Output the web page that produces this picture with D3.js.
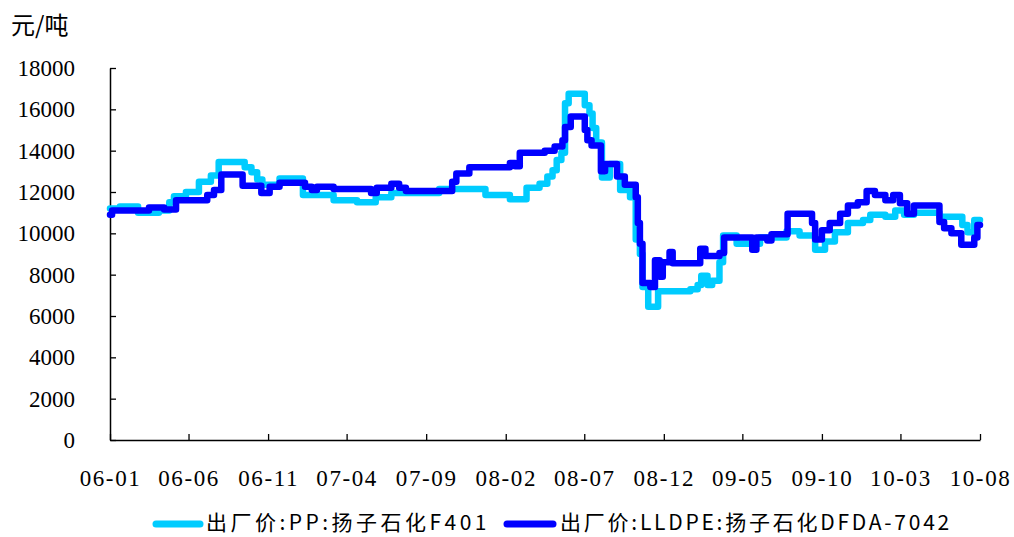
<!DOCTYPE html>
<html>
<head>
<meta charset="utf-8">
<script src="https://cdn.jsdelivr.net/npm/d3@7/dist/d3.min.js"></script>
<style>
  html, body { margin: 0; padding: 0; background: #fff; }
  svg { display: block; }
  .num { font-family: "Liberation Serif", "DejaVu Serif", "Liberation Sans"; }
  .cjk { font-family: "Noto Sans CJK SC", "Noto Sans", sans-serif; }
</style>
</head>
<body>
<svg id="chart" width="1014" height="537"></svg>
<script>
// Ex-works prices, yuan per tonne, step changes by date
const ppDates = [
  "2006-01-01","2006-01-20","2006-02-24","2006-04-05","2006-04-25","2006-05-04","2006-05-27","2006-06-21",
  "2006-07-14","2006-07-29","2006-09-17","2006-09-30","2006-10-11","2006-10-21","2006-11-23","2007-01-07",
  "2007-03-07","2007-04-21","2007-05-27","2007-06-26","2007-09-26","2007-12-24","2008-02-09","2008-03-12",
  "2008-04-06","2008-04-21","2008-05-01","2008-05-09","2008-05-18","2008-05-25","2008-06-01","2008-07-02",
  "2008-07-11","2008-07-17","2008-07-24","2008-08-04","2008-08-19","2008-09-08","2008-09-27","2008-10-08",
  "2008-10-16","2008-10-21","2008-11-01","2008-11-20","2009-01-21","2009-02-04","2009-02-11","2009-02-23",
  "2009-03-04","2009-03-18","2009-03-25","2009-04-20","2009-06-04","2009-07-25","2009-08-19","2009-09-18",
  "2009-10-07","2009-10-26","2009-11-20","2009-12-19","2010-01-02","2010-01-31","2010-02-19","2010-03-08",
  "2010-03-27","2010-05-15","2010-06-28","2010-07-08","2010-07-21","2010-08-01"
];
const ppPrices = [
  11200,11300,11000,11100,11500,11800,12000,12500,
  12800,13450,13200,12950,12600,12350,12650,11850,
  11600,11500,11750,11950,12150,11850,11650,12200,
  12400,12750,13050,13550,13900,16300,16750,16200,
  15800,15100,14400,12700,13350,12100,11750,9700,
  9000,7400,6450,7200,7300,7500,7950,7500,
  7700,8600,9900,9500,9800,10100,9900,9200,
  9600,10050,10500,10650,10900,10800,11100,10900,
  11000,10800,10400,10050,10650,10650
];

const lldpeDates = [
  "2006-01-01","2006-01-05","2006-03-17","2006-04-15","2006-05-08","2006-07-07","2006-07-20","2006-08-03",
  "2006-09-13","2006-10-19","2006-11-04","2006-11-23","2007-01-11","2007-01-24","2007-02-03","2007-03-07",
  "2007-05-18","2007-05-29","2007-06-26","2007-07-11","2007-07-24","2007-10-21","2007-10-29","2007-11-23",
  "2008-02-09","2008-02-19","2008-02-28","2008-04-16","2008-05-05","2008-05-20","2008-05-25","2008-06-05",
  "2008-07-02","2008-07-07","2008-07-15","2008-08-02","2008-08-10","2008-09-02","2008-09-17","2008-10-08",
  "2008-10-12","2008-10-16","2008-10-21","2008-11-05","2008-11-14","2008-11-23","2008-11-29","2008-12-12",
  "2008-12-18","2009-02-09","2009-02-19","2009-03-18","2009-03-27","2009-05-20","2009-05-28","2009-06-18",
  "2009-06-26","2009-07-27","2009-09-12","2009-09-18","2009-10-01","2009-10-16","2009-11-05","2009-11-20",
  "2009-12-09","2009-12-26","2010-01-11","2010-01-31","2010-02-15","2010-02-28","2010-03-14","2010-03-27",
  "2010-05-15","2010-05-24","2010-06-07","2010-06-26","2010-07-21","2010-07-27","2010-08-01"
];
const lldpePrices = [
  10900,11100,11250,11150,11600,11850,12100,12850,
  12300,11950,12250,12450,12250,12100,12250,12150,
  11950,12200,12400,12200,12050,12500,12900,13200,
  13400,13250,13900,14000,14200,14500,15150,15650,
  15000,14500,14250,13000,13350,12750,12350,11750,
  10500,9500,7600,7400,8700,7900,8600,9100,
  8550,9250,8900,9050,9800,9200,9800,9650,
  9950,10950,10500,9700,10150,10500,10950,11350,
  11500,12050,11850,11600,11850,11450,10950,11350,
  10550,10250,10000,9450,9800,10400,10400
];

const yTicks = [0, 2000, 4000, 6000, 8000, 10000, 12000, 14000, 16000, 18000];
const xTickLabels = ["06-01","06-06","06-11","07-04","07-09","08-02","08-07","08-12","09-05","09-10","10-03","10-08"];

const seriesNames = ["出厂价:PP:扬子石化F401", "出厂价:LLDPE:扬子石化DFDA-7042"];
const seriesColors = ["#00CCFF", "#0000FF"];
const unitLabel = "元/吨";

const parseDay = d3.timeParse("%Y-%m-%d");
const parseTick = d3.timeParse("%y-%m");
const fmtTick = d3.timeFormat("%y-%m");

const series = [
  ppDates.map((d, i) => ({ date: parseDay(d), value: ppPrices[i] })),
  lldpeDates.map((d, i) => ({ date: parseDay(d), value: lldpePrices[i] }))
];

const svg = d3.select("#chart");
const plot = { left: 110, right: 980, top: 68, bottom: 440 };

const tickDates = xTickLabels.map(parseTick);
const x = d3.scaleTime()
  .domain([tickDates[0], tickDates[tickDates.length - 1]])
  .range([plot.left, plot.right]);
const y = d3.scaleLinear().domain([0, 18000]).range([plot.bottom, plot.top]);

// Y axis with inward ticks
const yAxis = svg.append("g")
  .attr("transform", `translate(${plot.left},0)`)
  .call(d3.axisLeft(y).tickValues(yTicks).tickSizeInner(-6).tickSizeOuter(0).tickPadding(35).tickFormat(d3.format("d")));

// X axis with inward ticks
const xAxis = svg.append("g")
  .attr("transform", `translate(0,${plot.bottom})`)
  .call(d3.axisBottom(x).tickValues(tickDates).tickSizeInner(-6).tickSizeOuter(0).tickPadding(30).tickFormat(fmtTick));

[yAxis, xAxis].forEach(g => {
  g.attr("font-family", null).attr("font-size", null);
  g.select(".domain").attr("stroke", "#000").attr("stroke-width", 1.5);
  g.selectAll(".tick line").attr("stroke", "#000").attr("stroke-width", 1.3);
  g.selectAll(".tick text")
    .attr("class", "num")
    .attr("fill", "#000")
    .attr("font-size", 23);
});
xAxis.selectAll(".tick text").attr("letter-spacing", 1.6);

// Unit label
svg.append("text")
  .attr("class", "cjk")
  .attr("x", 11).attr("y", 34)
  .attr("font-size", 24)
  .attr("fill", "#000")
  .text(unitLabel);

// Price lines
const line = d3.line()
  .x(d => x(d.date))
  .y(d => y(d.value))
  .curve(d3.curveStepAfter);

series.forEach((s, i) => {
  svg.append("path")
    .datum(s)
    .attr("fill", "none")
    .attr("stroke", seriesColors[i])
    .attr("stroke-width", 6.5)
    .attr("stroke-linejoin", "round")
    .attr("stroke-linecap", "round")
    .attr("d", line);
});

// Legend: swatch line followed by the series name, spaced out to its slot width
const legendY = 524;
const legendItems = [
  { x0: 156, x1: 200, tx: 206, tw: 284 },
  { x0: 507, x1: 553, tx: 560, tw: 392 }
];
legendItems.forEach((it, i) => {
  svg.append("line")
    .attr("x1", it.x0).attr("x2", it.x1)
    .attr("y1", legendY).attr("y2", legendY)
    .attr("stroke", seriesColors[i])
    .attr("stroke-width", 7)
    .attr("stroke-linecap", "round");
  const t = svg.append("text")
    .attr("class", "cjk")
    .attr("x", it.tx).attr("y", legendY + 6)
    .attr("font-size", 21)
    .attr("fill", "#000")
    .text(seriesNames[i]);
  const natural = t.node().getComputedTextLength();
  const n = seriesNames[i].length;
  t.attr("letter-spacing", Math.max(0, (it.tw - natural) / n));
});
</script>
</body>
</html>
